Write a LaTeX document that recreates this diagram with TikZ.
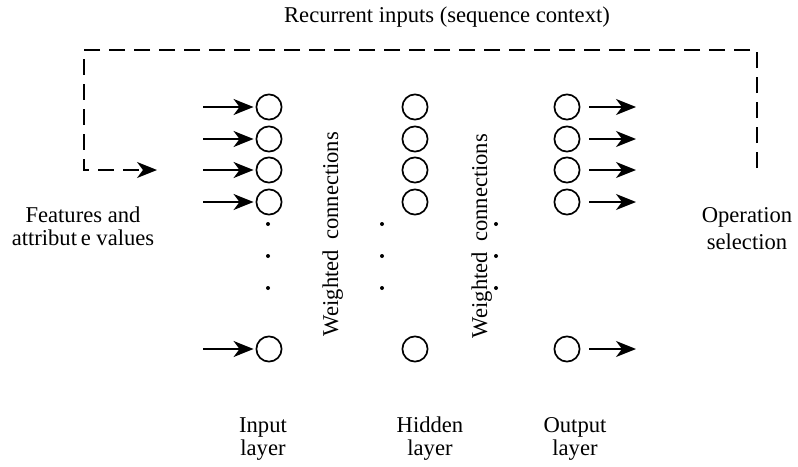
\documentclass[tikz,border=0pt]{standalone}
\usepackage{fontspec}
\setmainfont{Liberation Serif}
\usetikzlibrary{arrows.meta}
\begin{document}
\begin{tikzpicture}[x=0.5pt,y=-0.5pt,
  neuron/.style={circle,draw,line width=0.85pt,minimum size=12.6pt,inner sep=0pt},
  sig/.style={-{Stealth[length=10pt,width=8pt,inset=3pt]},line width=0.85pt},
  rec/.style={sig,dash pattern=on 8pt off 4.5pt},
  dotn/.style={circle,fill,inner sep=0pt,minimum size=2pt},
  lbl/.style={font=\fontsize{11.3pt}{11.5pt}\selectfont,align=center,inner sep=0pt}]
\useasboundingbox (0,0) rectangle (798,466);
% neurons and signal arrows
\foreach \n/\y in {1/107,2/139,3/170,4/202,5/349} {
  \node[neuron] (i\n) at (269,\y) {};
  \node[neuron] (h\n) at (415,\y) {};
  \node[neuron] (o\n) at (567,\y) {};
  \coordinate (s\n) at (203,\y);
  \coordinate (t\n) at (636,\y);
  \draw[sig,shorten >=1pt] (s\n) -- (i\n);
  \draw[sig] ([xshift=4.5pt]o\n.east) -- (t\n);
}
% ellipsis dots
\foreach \k/\y in {1/224,2/256,3/288} {
  \node[dotn] (di\k) at (268,\y) {};
  \node[dotn] (dl\k) at (382,\y) {};
  \node[dotn] (dr\k) at (496,\y) {};
}
% recurrent loop
\coordinate (rs) at (757,168);
\coordinate (c1) at (757,50);
\coordinate (c2) at (84,50);
\coordinate (c3) at (84,170);
\coordinate (re) at (157,170);
\draw[rec] (rs) -- (c1) -- (c2) -- (c3) -- (re);
% labels
\node[lbl,rotate=90,anchor=base] (w1) at (338,234) {Weighted\hspace{0.45em}connections};
\node[lbl,rotate=90,anchor=base] (w2) at (487,236) {Weighted\hspace{0.45em}connections};
\node[lbl] (top) at (447,17) {Recurrent inputs (sequence context)};
\node[lbl] (feat) at (83,226) {Features and\\attribut\,e values};
\node[lbl] (op) at (747,229) {Operation\\[2pt]selection};
\node[lbl] (li) at (263,439) {Input\\layer};
\node[lbl] (lh) at (430,439) {Hidden\\layer};
\node[lbl] (lo) at (575,439) {Output\\layer};
\end{tikzpicture}
\end{document}
